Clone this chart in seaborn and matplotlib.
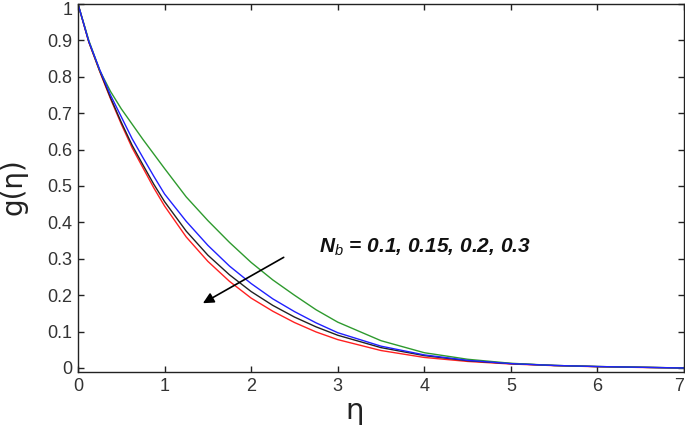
import numpy as np
import pandas as pd
import matplotlib
matplotlib.use("Agg")
import matplotlib.pyplot as plt
import matplotlib.transforms as mtransforms
import seaborn as sns
from matplotlib.ticker import FuncFormatter

eta = [0, 0.125, 0.25, 0.375, 0.5, 0.625, 0.75, 0.875, 1, 1.25, 1.5, 1.75, 2,
       2.25, 2.5, 2.75, 3, 3.5, 4, 4.5, 5, 5.5, 6, 6.5, 7]
g_nb_01 = [1, 0.9, 0.818, 0.76, 0.712, 0.67, 0.628, 0.588, 0.548, 0.47, 0.405,
           0.345, 0.29, 0.242, 0.2, 0.16, 0.126, 0.075, 0.042, 0.024, 0.013,
           0.007, 0.004, 0.002, 0.0]
g_nb_015 = [1, 0.897, 0.82, 0.75, 0.69, 0.63, 0.578, 0.527, 0.478, 0.403, 0.337,
            0.28, 0.232, 0.19, 0.155, 0.124, 0.097, 0.06, 0.036, 0.021, 0.012,
            0.007, 0.004, 0.002, 0.0]
g_nb_02 = [1, 0.896, 0.817, 0.743, 0.675, 0.612, 0.558, 0.505, 0.457, 0.376, 0.31,
           0.256, 0.21, 0.172, 0.14, 0.113, 0.09, 0.056, 0.034, 0.02, 0.012,
           0.007, 0.004, 0.002, 0.0]
g_nb_03 = [1, 0.895, 0.815, 0.74, 0.67, 0.605, 0.55, 0.495, 0.445, 0.36, 0.293,
           0.238, 0.192, 0.156, 0.125, 0.099, 0.078, 0.048, 0.029, 0.018, 0.011,
           0.0065, 0.0035, 0.0015, 0.0]
series_names = ["0.1", "0.15", "0.2", "0.3"]
series_colors = ["#2e9a2e", "#2020ff", "#222222", "#ff2020"]
x_ticks = [0, 1, 2, 3, 4, 5, 6, 7]
y_ticks = [0, 0.1, 0.2, 0.3, 0.4, 0.5, 0.6, 0.7, 0.8, 0.9, 1]

rows = []
for name, vals in zip(series_names, [g_nb_01, g_nb_015, g_nb_02, g_nb_03]):
    for e, v in zip(eta, vals):
        rows.append({"eta": e, "g": v, "Nb": name})
df = pd.DataFrame(rows)

sns.set_style("ticks")
plt.rcParams['font.family'] = ['Liberation Sans', 'DejaVu Sans']
plt.rcParams['mathtext.fontset'] = 'custom'
plt.rcParams['mathtext.it'] = 'Liberation Sans:italic'
plt.rcParams['mathtext.bfit'] = 'Liberation Sans:bold:italic'
plt.rcParams['mathtext.rm'] = 'Liberation Sans'

fig = plt.figure(figsize=(6.85, 4.28), dpi=100)
ax = fig.add_axes([78/685, 1-372/428, 606/685, 368/428])

order = ["0.3", "0.2", "0.1", "0.15"]
pal = dict(zip(series_names, series_colors))
for name in order:
    sns.lineplot(data=df[df["Nb"] == name], x="eta", y="g", color=pal[name],
                 lw=1.0, ax=ax, legend=False, estimator=None, sort=False)

ax.set_xlim(0, 7)
ax.set_ylim(-0.011, 1.0)
ax.set_xticks(x_ticks)
ax.set_yticks(y_ticks)
ax.yaxis.set_major_formatter(FuncFormatter(lambda v, p: f"{v:g}"))
ax.tick_params(direction='in', top=True, right=True, length=4, width=1,
               labelsize=13, labelcolor='#333333', color='#222222', pad=4)
xt = ax.get_xticklabels()
xt[-1].set_ha('right')
yt = ax.get_yticklabels()
yt[-1].set_transform(yt[-1].get_transform() +
                     mtransforms.ScaledTranslation(0, -3/72, fig.dpi_scale_trans))
for s in ax.spines.values():
    s.set_visible(True)
    s.set_color('#222222')
    s.set_linewidth(1)

ax.set_xlabel("η", fontsize=21, family=['DejaVu Sans'], color='#222222')
ax.set_ylabel("g(η)", fontsize=20, family=['DejaVu Sans'], color='#222222')
ax.xaxis.set_label_coords(0.456, -0.068)
ax.yaxis.set_label_coords(-0.083, 0.505)

ax.annotate('', xy=(1.443, 0.178), xytext=(2.376, 0.304),
            arrowprops=dict(arrowstyle='-|>', color='k', lw=1.2,
                            mutation_scale=16, shrinkA=0, shrinkB=0))
ax.text(2.78, 0.332, r'$\mathbfit{N}_{b}$ = 0.1, 0.15, 0.2, 0.3',
        fontsize=15, fontweight='bold', fontstyle='italic', va='center',
        ha='left', color='#111111')

fig.savefig("out.png", dpi=100)
